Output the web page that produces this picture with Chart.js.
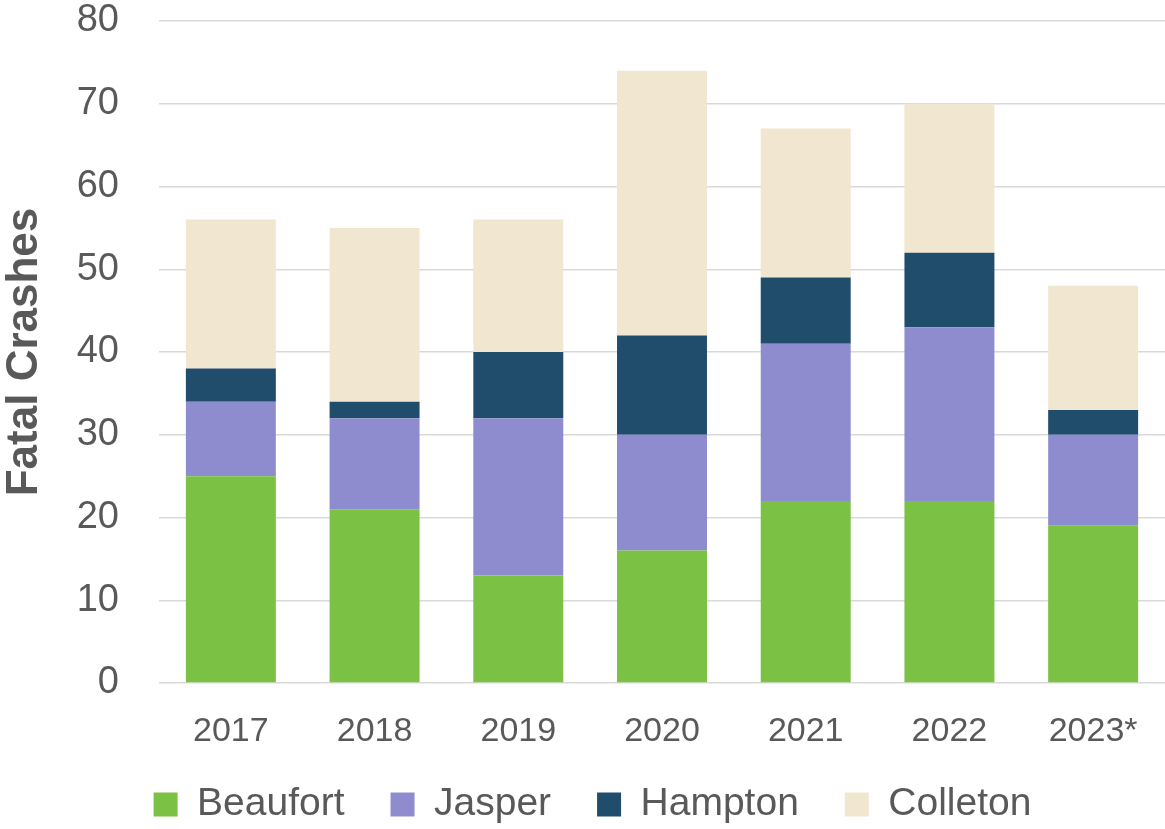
<!DOCTYPE html>
<html>
<head>
<meta charset="utf-8">
<script src="https://cdn.jsdelivr.net/npm/chart.js@4/dist/chart.umd.min.js"></script>
<style>
  html, body { margin: 0; padding: 0; background: #fff; }
  #wrap { width: 1165px; height: 829px; }
</style>
</head>
<body>
<div id="wrap"><canvas id="chart"></canvas></div>
<script>
// fatal crashes per county
var years = ['2017', '2018', '2019', '2020', '2021', '2022', '2023*'];
var beaufort = [25, 21, 13, 16, 22, 22, 19];
var jasper   = [9, 11, 19, 14, 19, 21, 11];
var hampton  = [4, 2, 8, 12, 8, 9, 3];
var colleton = [18, 21, 16, 32, 18, 18, 15];

var textColor = '#595959';
var fontFamily = "'Liberation Sans', Arial, sans-serif";

function series(label, data, color) {
    return {
        label: label,
        data: data,
        backgroundColor: color,
        borderWidth: 0,
        categoryPercentage: 1.0,
        barPercentage: 0.626
    };
}

// legend padding is used both between items and above/below them,
// so pin its height and slide it up a bit to keep the wide item spacing
var legendHeight = {
    id: 'legendHeight',
    beforeUpdate: function (chart) {
        var lg = chart.legend;
        if (lg && !lg._pinned) {
            var fit = lg.fit;
            lg.fit = function () {
                fit.call(this);
                this.height = 66;
            };
            lg._pinned = true;
        }
    },
    afterLayout: function (chart) {
        var lg = chart.legend;
        if (lg) {
            lg.top = chart.height - 90;
            lg.bottom = chart.height + 3;
            lg.left += 10;
            lg.right += 10;
        }
    }
};

new Chart(document.getElementById('chart'), {
    type: 'bar',
    data: {
        labels: years,
        datasets: [
            series('Beaufort', beaufort, '#7bc143'),
            series('Jasper', jasper, '#8e8ccf'),
            series('Hampton', hampton, '#214d6d'),
            series('Colleton', colleton, '#f1e6cf')
        ]
    },
    options: {
        responsive: true,
        maintainAspectRatio: false,
        animation: false,
        layout: { padding: 0 },
        scales: {
            x: {
                stacked: true,
                grid: { display: false },
                border: { display: false },
                ticks: {
                    color: textColor,
                    padding: 20,
                    font: { family: fontFamily, size: 34 }
                },
                afterFit: function (scale) { scale.height = 80; }
            },
            y: {
                stacked: true,
                min: 0,
                max: 80,
                grid: { color: '#d9d9d9', lineWidth: 1.5, drawTicks: false },
                border: { display: false },
                ticks: {
                    stepSize: 10,
                    color: textColor,
                    padding: 40,
                    font: { family: fontFamily, size: 38 }
                },
                title: {
                    display: true,
                    text: 'Fatal Crashes',
                    color: textColor,
                    padding: { top: -2, bottom: 0 },
                    font: { family: fontFamily, size: 44, weight: 'bold' }
                },
                afterFit: function (scale) {
                    scale.width = 159;
                    scale.paddingTop = 21;
                    scale.paddingBottom = 0;
                }
            }
        },
        plugins: {
            legend: {
                position: 'bottom',
                labels: {
                    color: textColor,
                    boxWidth: 24,
                    boxHeight: 24,
                    padding: 46,
                    font: { family: fontFamily, size: 39 }
                }
            },
            tooltip: { enabled: false }
        }
    },
    plugins: [legendHeight]
});
</script>
</body>
</html>
